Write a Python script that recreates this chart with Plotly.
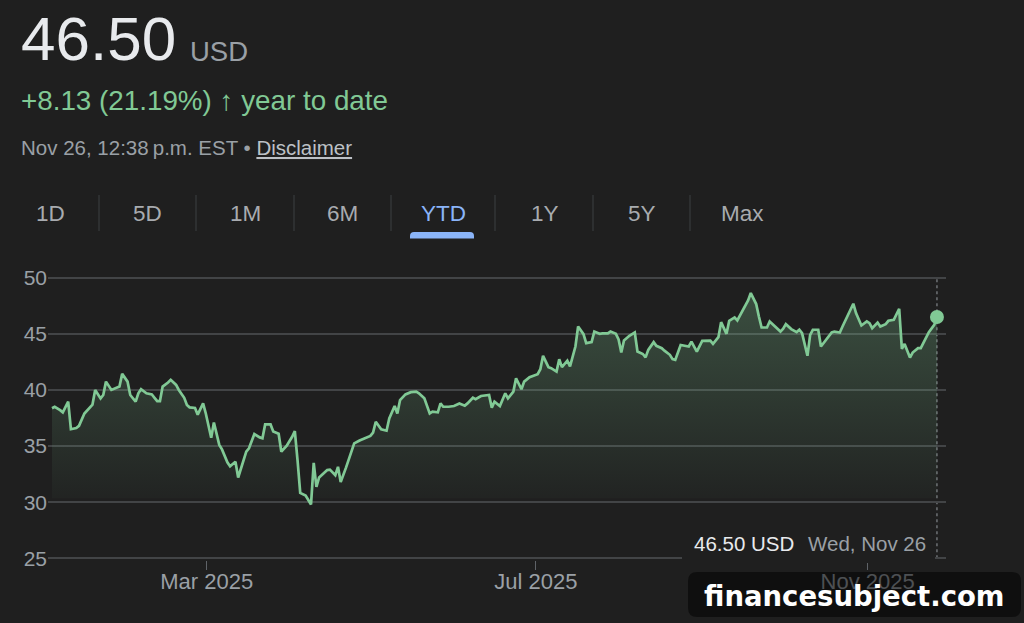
import plotly.graph_objects as go

# ---------------- data ----------------
dates = [
    "2025-01-02", "2025-01-03", "2025-01-05", "2025-01-06", "2025-01-08", "2025-01-09", "2025-01-11",
    "2025-01-12", "2025-01-14", "2025-01-16", "2025-01-17", "2025-01-18", "2025-01-20", "2025-01-21",
    "2025-01-22", "2025-01-24", "2025-01-26", "2025-01-27", "2025-01-28", "2025-01-30", "2025-01-31",
    "2025-02-02", "2025-02-03", "2025-02-04", "2025-02-06", "2025-02-08", "2025-02-09", "2025-02-10",
    "2025-02-11", "2025-02-12", "2025-02-14", "2025-02-15", "2025-02-17", "2025-02-18", "2025-02-20",
    "2025-02-21", "2025-02-22", "2025-02-24", "2025-02-25", "2025-02-27", "2025-02-28",
    "2025-03-02", "2025-03-03", "2025-03-05", "2025-03-06", "2025-03-08", "2025-03-09", "2025-03-11",
    "2025-03-12", "2025-03-15", "2025-03-16", "2025-03-18", "2025-03-20", "2025-03-21", "2025-03-22",
    "2025-03-24", "2025-03-25", "2025-03-27", "2025-03-28", "2025-03-30",
    "2025-04-01", "2025-04-02", "2025-04-03", "2025-04-04", "2025-04-06", "2025-04-07", "2025-04-08",
    "2025-04-09", "2025-04-10", "2025-04-11", "2025-04-13", "2025-04-14", "2025-04-15", "2025-04-17",
    "2025-04-18", "2025-04-19", "2025-04-21", "2025-04-22", "2025-04-24", "2025-04-26", "2025-04-27",
    "2025-04-28", "2025-04-30",
    "2025-05-01", "2025-05-02", "2025-05-04", "2025-05-06", "2025-05-07", "2025-05-09", "2025-05-10",
    "2025-05-11", "2025-05-13", "2025-05-15", "2025-05-17", "2025-05-18", "2025-05-20", "2025-05-22",
    "2025-05-23", "2025-05-25", "2025-05-26", "2025-05-27", "2025-05-29", "2025-05-31",
    "2025-06-02", "2025-06-04", "2025-06-05", "2025-06-07", "2025-06-08", "2025-06-10", "2025-06-13",
    "2025-06-14", "2025-06-15", "2025-06-17", "2025-06-19", "2025-06-20", "2025-06-22", "2025-06-23",
    "2025-06-25", "2025-06-26", "2025-06-28", "2025-06-30",
    "2025-07-01", "2025-07-02", "2025-07-03", "2025-07-05", "2025-07-06", "2025-07-08", "2025-07-09",
    "2025-07-10", "2025-07-12", "2025-07-13", "2025-07-15", "2025-07-16", "2025-07-18", "2025-07-19",
    "2025-07-21", "2025-07-22", "2025-07-24", "2025-07-25", "2025-07-27", "2025-07-28", "2025-07-30",
    "2025-07-31",
    "2025-08-01", "2025-08-02", "2025-08-04", "2025-08-06", "2025-08-07", "2025-08-09", "2025-08-10",
    "2025-08-11", "2025-08-13", "2025-08-14", "2025-08-16", "2025-08-17", "2025-08-19", "2025-08-20",
    "2025-08-21", "2025-08-23", "2025-08-25", "2025-08-26", "2025-08-27", "2025-08-29", "2025-08-31",
    "2025-09-01", "2025-09-03", "2025-09-04", "2025-09-06", "2025-09-07", "2025-09-09", "2025-09-10",
    "2025-09-12", "2025-09-13", "2025-09-15", "2025-09-17", "2025-09-18", "2025-09-20", "2025-09-21",
    "2025-09-22", "2025-09-24", "2025-09-25", "2025-09-27", "2025-09-29", "2025-09-30",
    "2025-10-01", "2025-10-03", "2025-10-05", "2025-10-06", "2025-10-07", "2025-10-09", "2025-10-10",
    "2025-10-11", "2025-10-13", "2025-10-14", "2025-10-16", "2025-10-18", "2025-10-19", "2025-10-21",
    "2025-10-22", "2025-10-24", "2025-10-26", "2025-10-27", "2025-10-29", "2025-10-31",
    "2025-11-01", "2025-11-02", "2025-11-04", "2025-11-05", "2025-11-07", "2025-11-08", "2025-11-10",
    "2025-11-12", "2025-11-13", "2025-11-14", "2025-11-16", "2025-11-17", "2025-11-19", "2025-11-20",
    "2025-11-22", "2025-11-23", "2025-11-25", "2025-11-26",
]

prices = [
    38.37, 38.5, 38.2, 38.0, 38.96, 36.5, 36.6, 36.8, 37.9, 38.4, 38.7, 40.0, 39.25, 39.55,
    40.74, 40.0, 40.2, 40.3, 41.43, 40.74, 39.55,
    38.96, 39.7, 40.06, 39.7, 39.6, 39.3, 39.0, 39.0, 40.3, 40.66, 40.9, 40.45, 40.0, 39.3,
    38.66, 38.45, 38.4, 37.8, 38.8, 37.9,
    35.74, 37.1, 35.1, 34.7, 33.55, 33.2, 33.6, 32.2, 34.5, 34.8, 36.07, 35.77, 35.7, 36.93,
    36.93, 36.3, 36.1, 34.5, 35.03,
    35.83, 36.34, 33.75, 30.83, 30.6, 30.2, 29.8, 33.5, 31.36, 32.2, 32.6, 32.86, 32.9, 32.4,
    33.15, 31.8, 33.1, 33.75, 35.24, 35.5, 35.6, 35.74, 35.9,
    36.2, 37.17, 36.5, 36.37, 37.47, 38.57, 37.9, 39.1, 39.6, 39.8, 39.85, 39.7, 39.25, 37.9,
    38.06, 38.0, 38.8, 38.5, 38.5, 38.57,
    38.8, 38.6, 38.8, 39.3, 39.17, 39.46, 39.55, 38.42, 38.96, 38.57, 39.7, 39.25, 39.85, 41.04,
    40.06, 40.74, 41.13, 41.28,
    41.4, 41.85, 43.04, 42.03, 41.94, 41.64, 42.74, 42.03, 42.6, 42.1, 43.87, 45.65, 44.97, 44.17,
    44.26, 45.2, 45.0, 45.03, 45.03, 45.2, 45.0, 44.5,
    43.33, 44.4, 44.82, 45.12, 43.42, 43.2, 42.9, 43.57, 44.26, 43.93, 43.72, 43.5, 43.13, 42.74,
    42.68, 44.0, 43.87, 43.87, 44.3, 43.42, 44.37,
    44.37, 44.4, 44.1, 44.7, 46.04, 45.0, 46.16, 46.46, 46.2, 47.14, 47.97, 48.63, 47.65, 46.54,
    45.56, 45.56, 46.1, 45.65, 45.2, 45.45,
    45.86, 45.42, 45.15, 45.36, 45.06, 43.04, 44.9, 45.36, 45.36, 43.87, 44.46, 45.12, 45.2, 45.12,
    45.65, 46.7, 47.68, 46.85, 45.74, 46.1,
    45.95, 45.5, 46.0, 45.65, 45.86, 46.16, 46.25, 47.23, 43.66, 44.1, 42.88, 43.33, 43.72, 43.72,
    44.7, 45.15, 45.8, 46.5,
]

close_time = "16:00"  # quotes are stamped at the market close
y_ticks = [25, 30, 35, 40, 45, 50]
x_tick_dates = ["2025-03-01", "2025-07-01", "2025-11-01"]
x_tick_labels = ["Mar 2025", "Jul 2025", "Nov 2025"]
range_tabs = ["1D", "5D", "1M", "6M", "YTD", "1Y", "5Y", "Max"]
active_tab = "YTD"

price_text = "46.50"
currency = "USD"
change_text = "+8.13 (21.19%) <b>\u2191</b> year to date"
stamp_text = "Nov 26, 12:38\u2009p.m. EST \u2022 "
disclaimer_text = "Disclaimer"
tooltip_price = "46.50 USD"
tooltip_date = "Wed, Nov 26"
watermark = "financesubject.com"

# ---------------- style / layout ----------------
W, H = 1024, 623
BG = "#1f1f1f"
GREEN = "#81c995"
GREY = "#9aa0a6"
WHITE = "#e8eaed"
BLUE = "#8ab4f8"
GRID = "#424446"
FONT = "Liberation Sans, Arial, sans-serif"
FILL_BASE = 30.35

ML, MR, MT, MB = 48, 78, 276, 63
PL, PR, PT, PB = ML, W - MR, MT, H - MB

times = [f"{d} {close_time}" for d in dates]


def px(x):
    return (x - PL) / (PR - PL)


def py(y):
    return (PB - y) / (PB - PT)


def rounded_path(x0, y0, x1, y1, r, top_only=False):
    rb = 0 if top_only else r
    pts = [
        f"M{px(x0 + r)},{py(y0)}",
        f"L{px(x1 - r)},{py(y0)}",
        f"Q{px(x1)},{py(y0)} {px(x1)},{py(y0 + r)}",
        f"L{px(x1)},{py(y1 - rb)}",
        f"Q{px(x1)},{py(y1)} {px(x1 - rb)},{py(y1)}",
        f"L{px(x0 + rb)},{py(y1)}",
        f"Q{px(x0)},{py(y1)} {px(x0)},{py(y1 - rb)}",
        f"L{px(x0)},{py(y0 + r)}",
        f"Q{px(x0)},{py(y0)} {px(x0 + r)},{py(y0)}",
        "Z",
    ]
    return " ".join(pts)


fig = go.Figure()

# baseline for the area fill
fig.add_trace(go.Scatter(
    x=[times[0], times[-1]], y=[FILL_BASE, FILL_BASE], mode="lines",
    line=dict(width=0, color="rgba(0,0,0,0)"), hoverinfo="skip", showlegend=False,
))
# price line with gradient fill
fig.add_trace(go.Scatter(
    x=times, y=prices, mode="lines",
    line=dict(color=GREEN, width=2.7),
    fill="tonexty",
    fillgradient=dict(
        type="vertical",
        colorscale=[[0, "rgba(129,201,149,0.02)"], [1, "rgba(129,201,149,0.28)"]],
    ),
    hoverinfo="skip", showlegend=False,
))
# end-point marker
fig.add_trace(go.Scatter(
    x=[times[-1]], y=[prices[-1]], mode="markers",
    marker=dict(size=14, color=GREEN), hoverinfo="skip", showlegend=False,
))

shapes = []
# dotted cursor line at the last point
shapes.append(dict(type="line", xref="x", yref="y", x0=times[-1], x1=times[-1],
                   y0=y_ticks[0], y1=y_ticks[-1], line=dict(color="#74787c", width=1.4, dash="dot"),
                   layer="below"))
# tooltip backing (hides the bottom grid line under the readout)
shapes.append(dict(type="rect", xref="paper", yref="paper",
                   x0=px(682), x1=px(935), y0=py(505), y1=py(563),
                   fillcolor=BG, line=dict(width=0), layer="above"))
# tab separators
for sx in [99, 196, 294, 391, 495, 593, 690]:
    shapes.append(dict(type="line", xref="paper", yref="paper",
                       x0=px(sx), x1=px(sx), y0=py(195), y1=py(231),
                       line=dict(color="#3c4043", width=1)))
# active tab underline
shapes.append(dict(type="path", xref="paper", yref="paper",
                   path=rounded_path(410, 232, 474, 238.5, 4, top_only=True),
                   fillcolor=BLUE, line=dict(width=0)))
# watermark box
shapes.append(dict(type="path", xref="paper", yref="paper",
                   path=rounded_path(688, 572, 1021, 617, 9),
                   fillcolor="rgba(0,0,0,0.5)", line=dict(width=0), layer="above"))

annotations = []


def label(text, x, y, size, color, xanchor="left", family=FONT, weight="normal"):
    annotations.append(dict(
        text=text, x=px(x), y=py(y), xref="paper", yref="paper",
        xanchor=xanchor, yanchor="middle", showarrow=False,
        font=dict(size=size, color=color, family=family, weight=weight),
    ))


label(price_text, 19, 39, 62, WHITE)
label(currency, 188, 51.5, 27.5, GREY)
label(change_text, 19, 100.5, 27.8, GREEN)
label(stamp_text + f"<span style='text-decoration:underline;color:#bdc1c6'>{disclaimer_text}</span>",
      18.5, 147.5, 20.5, GREY)

tab_centers = [50, 147, 245, 342, 443, 545, 642, 742]
for t, cx in zip(range_tabs, tab_centers):
    label(t, cx, 213, 22.5, BLUE if t == active_tab else "#a8abaf", xanchor="center")

label(tooltip_price, 692, 543, 20.5, WHITE)
label(tooltip_date, 928, 543, 20.5, GREY, xanchor="right")
label(watermark, 854.5, 596, 27.5, "#ffffff", xanchor="center", family="DejaVu Sans", weight="bold")

fig.update_layout(
    width=W, height=H, autosize=False,
    paper_bgcolor=BG, plot_bgcolor=BG,
    margin=dict(l=ML, r=MR, t=MT, b=MB, pad=0),
    showlegend=False, hovermode=False,
    font=dict(family=FONT, color=GREY),
    shapes=shapes, annotations=annotations,
    xaxis=dict(
        type="date", range=["2025-01-01 04:19", "2025-11-30 00:30"],
        tickvals=x_tick_dates, ticktext=x_tick_labels,
        ticks="outside", ticklen=9, tickwidth=1, tickcolor="#5f6368",
        ticklabelstandoff=-7,
        showgrid=False, zeroline=False, showline=False,
        tickfont=dict(size=22, color=GREY, family=FONT),
        fixedrange=True,
    ),
    yaxis=dict(
        range=[24.85, 50.15], tickvals=y_ticks,
        showgrid=True, gridcolor=GRID, gridwidth=1.5,
        zeroline=False, showline=False, ticks="", ticklen=0,
        tickfont=dict(size=21, color=GREY, family=FONT),
        fixedrange=True,
    ),
)

fig.write_html("out.html", config={"displayModeBar": False})
